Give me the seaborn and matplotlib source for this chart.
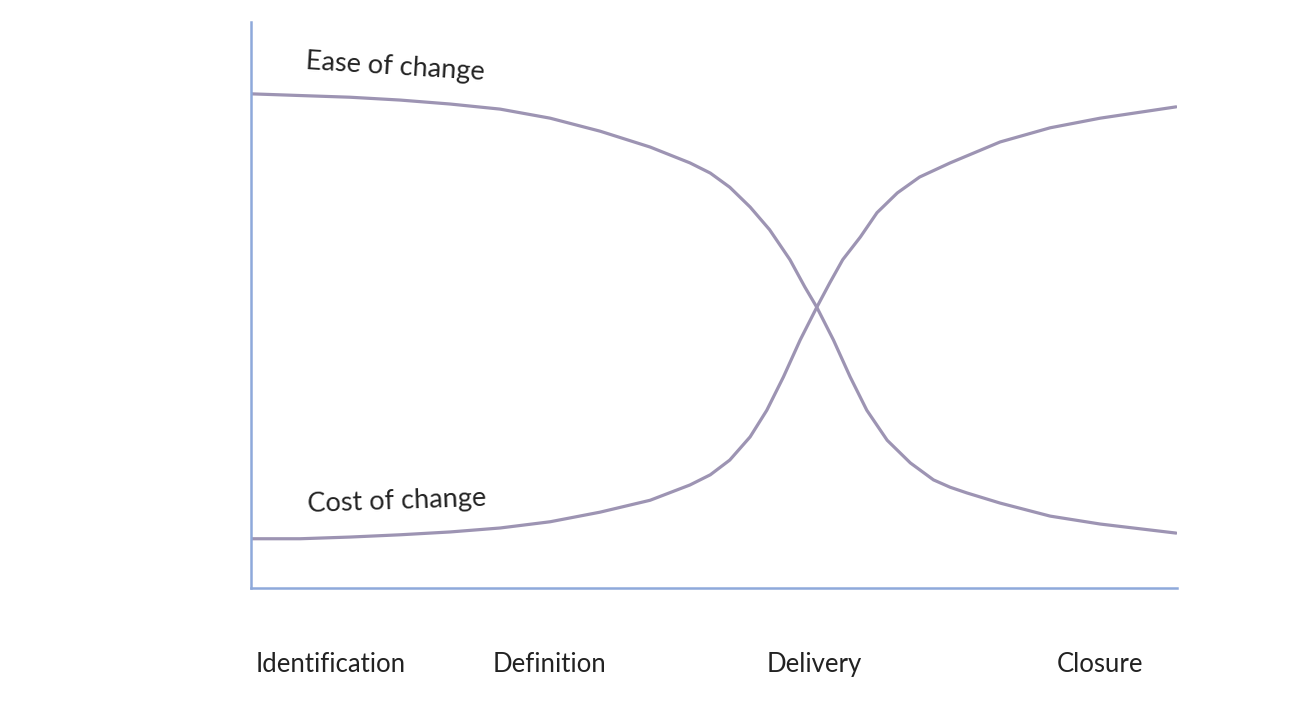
import pandas as pd
import seaborn as sns
import matplotlib
matplotlib.use("Agg")
import matplotlib.pyplot as plt

# progress through the project (0-100) and relative level (0-100)
ease_x = [0, 5.3, 10.7, 16.1, 21.5, 26.9, 32.3, 37.7, 43.1, 47.4, 49.6, 51.7, 53.9, 56.0,
          58.2, 59.8, 61.1, 62.9, 64.7, 66.5, 68.7, 71.2, 73.7, 75.5, 77.3, 80.9, 86.3,
          91.7, 99.9]
ease_y = [87.3, 87.0, 86.7, 86.2, 85.5, 84.6, 83.0, 80.7, 77.9, 75.1, 73.3, 70.8, 67.3, 63.3,
          58.0, 53.2, 49.6, 43.8, 37.3, 31.4, 26.1, 22.1, 19.1, 17.8, 16.8, 15.0, 12.7,
          11.3, 9.7]

cost_x = [0, 5.3, 10.7, 16.1, 21.5, 26.9, 32.3, 37.7, 43.1, 47.4, 49.6, 51.7, 53.9, 55.7,
          57.5, 59.3, 61.1, 62.5, 63.9, 65.8, 67.6, 69.8, 72.2, 75.5, 80.9, 86.3, 91.7, 99.9]
cost_y = [8.7, 8.7, 9.0, 9.4, 9.9, 10.6, 11.7, 13.4, 15.5, 18.2, 20.0, 22.6, 26.7, 31.4,
          37.3, 43.8, 49.6, 53.9, 58.0, 62.0, 66.3, 69.8, 72.6, 75.1, 78.8, 81.3, 83.0, 85.0]

stages = ["Identification", "Definition", "Delivery", "Closure"]
stage_pos = [8.6, 32.2, 60.8, 91.7]

df = pd.concat([
    pd.DataFrame({"x": ease_x, "y": ease_y, "curve": "Ease of change"}),
    pd.DataFrame({"x": cost_x, "y": cost_y, "curve": "Cost of change"}),
])

sns.set_style("white")
plt.rcParams["font.family"] = ["Lato", "DejaVu Sans"]

fig = plt.figure(figsize=(13.02, 7.08), dpi=100)
ax = fig.add_axes([0.1928, 0.1695, 0.7112, 0.7995])

line_col = "#9d94b3"
sns.lineplot(data=df, x="x", y="y", units="curve", estimator=None, sort=False,
             color=line_col, linewidth=2.3, ax=ax, legend=False)
for ln in ax.lines:
    ln.set_solid_joinstyle("round")

ax.set_xlim(0, 100)
ax.set_ylim(0, 100)
ax.set_xlabel("")
ax.set_ylabel("")
ax.set_yticks([])
ax.set_xticks(stage_pos)
ax.set_xticklabels(stages, fontsize=18.5, color="#222222")
ax.tick_params(axis="x", length=0, pad=46)

for side in ["top", "right"]:
    ax.spines[side].set_visible(False)
for side in ["left", "bottom"]:
    ax.spines[side].set_color("#8ea9db")
    ax.spines[side].set_linewidth(1.8)

ax.text(15.6, 92.0, "Ease of change", fontsize=19.5, color="#222222",
        rotation=-3.5, ha="center", va="center")
ax.text(15.8, 15.3, "Cost of change", fontsize=19.5, color="#222222",
        rotation=2, ha="center", va="center")

fig.savefig("out.png", dpi=100, facecolor="white")
